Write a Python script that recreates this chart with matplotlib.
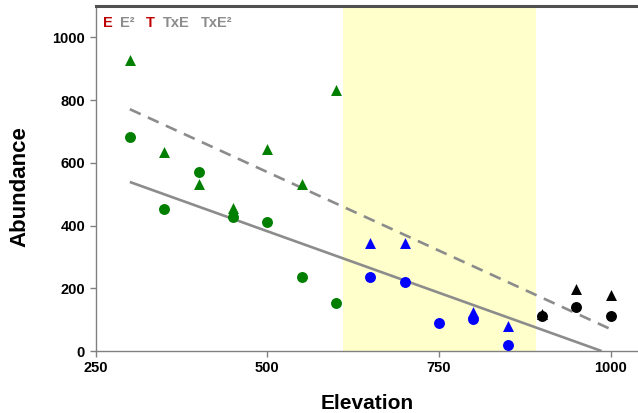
import matplotlib
matplotlib.use("Agg")
import matplotlib.pyplot as plt

plt.rcParams["font.family"] = ["Liberation Sans", "DejaVu Sans"]

# elevation sites and abundances
low_x = [300, 350, 400, 450, 500, 550, 600]
low_tri = [927, 635, 534, 457, 645, 532, 831]
low_dot = [682, 454, 571, 426, 412, 235, 152]

mid_tri_x = [650, 700, 800, 850]
mid_tri = [346, 343, 123, 81]
mid_dot_x = [650, 700, 750, 800, 850]
mid_dot = [237, 219, 88, 101, 18]

high_x = [900, 950, 1000]
high_tri = [118, 197, 178]
high_dot = [113, 141, 111]

# fitted lines (endpoints)
solid_x = [300, 987]
solid_y = [539, 0]
dashed_x = [300, 1000]
dashed_y = [771, 70]

band = (610, 892)

terms = ["E", "E²", "T", "TxE", "TxE²"]
term_sig = [True, False, True, False, False]

GREEN = "#007f00"
BLUE = "#0000ff"
GRAY_LINE = "#8c8c8c"
SPINE = "#808080"

fig = plt.figure(figsize=(6.38, 4.13), dpi=100)
ax = fig.add_axes([0.1497, 0.150, 0.8503, 0.8355])

ax.axvspan(*band, color="#ffffcc", lw=0, zorder=0)

ax.plot(solid_x, solid_y, color=GRAY_LINE, lw=1.9, zorder=2, solid_capstyle="butt")
ax.plot(dashed_x, dashed_y, color=GRAY_LINE, lw=1.9, ls=(0, (4.5, 3)), zorder=2)

ms = 62
ax.scatter(low_x, low_tri, marker="^", s=ms, color=GREEN, lw=0, zorder=3)
ax.scatter(low_x, low_dot, marker="o", s=ms, color=GREEN, lw=0, zorder=3)
ax.scatter(mid_tri_x, mid_tri, marker="^", s=ms, color=BLUE, lw=0, zorder=3)
ax.scatter(mid_dot_x, mid_dot, marker="o", s=ms, color=BLUE, lw=0, zorder=3)
ax.scatter(high_x, high_tri, marker="^", s=ms, color="black", lw=0, zorder=3)
ax.scatter(high_x, high_dot, marker="o", s=ms, color="black", lw=0, zorder=3)

ax.set_xlim(250, 1040)
ax.set_ylim(0, 1100)
ax.set_xticks([250, 500, 750, 1000])
ax.set_yticks([0, 200, 400, 600, 800, 1000])

for lab in ax.get_xticklabels() + ax.get_yticklabels():
    lab.set_fontweight("bold")
    lab.set_fontsize(10.5)
ax.tick_params(direction="out", length=4.5, width=1, color=SPINE, pad=3)

ax.spines["right"].set_visible(False)
for side in ("left", "bottom"):
    ax.spines[side].set_color(SPINE)
    ax.spines[side].set_linewidth(1)
ax.spines["top"].set_color("#505050")
ax.spines["top"].set_linewidth(2.2)

ax.set_xlabel("Elevation", fontsize=15, fontweight="bold")
ax.xaxis.set_label_coords(0.5, -0.124)
ax.set_ylabel("Abundance", fontsize=16, fontweight="bold")
ax.yaxis.set_label_coords(-0.12, 0.478)

# model terms, significant ones in red
term_pos = [0.0135, 0.0455, 0.092, 0.1245, 0.1935]
for txt, sig, xp in zip(terms, term_sig, term_pos):
    ax.text(xp, 0.972, txt, transform=ax.transAxes, fontsize=10.5,
            fontweight="bold",
            color="#c00000" if sig else "#8c8c8c", va="top", ha="left")

fig.savefig("out.png", dpi=100)
